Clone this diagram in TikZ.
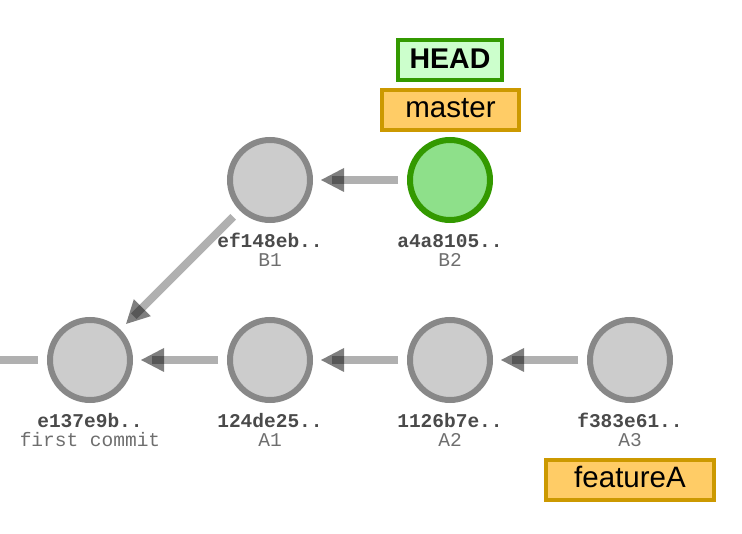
\documentclass[tikz,border=0pt]{standalone}
\usepackage{fontspec}
\setmainfont{Liberation Sans}
\newfontfamily\hashfont{Liberation Mono}
\usetikzlibrary{calc}
\definecolor{cfill}{HTML}{CCCCCC}
\definecolor{cline}{HTML}{888888}
\definecolor{hfill}{HTML}{8EE08A}
\definecolor{hline}{HTML}{339900}
\definecolor{lnk}{HTML}{B0B0B0}
\definecolor{headfill}{HTML}{CCFFCC}
\definecolor{brfill}{HTML}{FFCC66}
\definecolor{brline}{HTML}{CC9900}
\definecolor{hashcol}{HTML}{4A4A4A}
\definecolor{subjcol}{HTML}{6E6E6E}
\tikzset{
  commit/.style={circle, draw=cline, fill=cfill, line width=6pt, minimum size=80pt, inner sep=0pt},
  headcommit/.style={commit, draw=hline, fill=hfill},
  hashlbl/.style={anchor=base, text=hashcol, font=\hashfont\bfseries\fontsize{19.5}{19.5}\selectfont, inner sep=0pt},
  subjlbl/.style={anchor=base, text=subjcol, font=\hashfont\fontsize{19.5}{19.5}\selectfont, inner sep=0pt},
  linkline/.style={draw=lnk, line width=8pt},
  linktip/.style={fill=black, fill opacity=0.5},
  headref/.style={draw=hline, fill=headfill, line width=4pt, minimum width=104pt, minimum height=40pt, inner sep=0pt, text height=16.6pt, text depth=0pt, font=\bfseries\fontsize{28.5}{28.5}\selectfont},
  branchref/.style={draw=brline, fill=brfill, line width=4pt, minimum height=40pt, inner sep=0pt, text depth=0pt, font=\fontsize{29.5}{29.5}\selectfont},
}
\newcommand\gitlink[2]{%
  \draw[linkline] ($(#1.center)!52pt!(#2.center)$) -- ($(#2.center)!62pt!(#1.center)$);
  \coordinate (tt) at ($(#2.center)!51pt!(#1.center)$);
  \coordinate (tb) at ($(#2.center)!74pt!(#1.center)$);
  \fill[linktip] (tt) -- ($(tb)!12pt!90:(tt)$) -- ($(tb)!12pt!-90:(tt)$) -- cycle;}
\begin{document}
\begin{tikzpicture}[x=1pt,y=-1pt]
\useasboundingbox (0,0) rectangle (742,534);
% commits
\node[commit] (B1) at (270,180) {};
\node[headcommit] (B2) at (450,180) {};
\node[commit] (C0) at (90,360) {};
\node[commit] (A1) at (270,360) {};
\node[commit] (A2) at (450,360) {};
\node[commit] (A3) at (630,360) {};
% labels
\node[hashlbl] (B1h) at (270,248) {ef148eb..};
\node[subjlbl] (B1s) at (270,267) {B1};
\node[hashlbl] (B2h) at (450,248) {a4a8105..};
\node[subjlbl] (B2s) at (450,267) {B2};
\node[hashlbl] (C0h) at (90,428) {e137e9b..};
\node[subjlbl] (C0s) at (90,447) {first commit};
\node[hashlbl] (A1h) at (270,428) {124de25..};
\node[subjlbl] (A1s) at (270,447) {A1};
\node[hashlbl] (A2h) at (450,428) {1126b7e..};
\node[subjlbl] (A2s) at (450,447) {A2};
\node[hashlbl] (A3h) at (630,428) {f383e61..};
\node[subjlbl] (A3s) at (630,447) {A3};
% refs
\node[headref] (HEAD) at (450,60) {HEAD};
\node[branchref, minimum width=137pt, text height=15.4pt] (master) at (450.5,110) {master};
\node[branchref, minimum width=168pt, text height=14.6pt] (featureA) at (630,480) {featureA};
% links
\coordinate (off) at (0,360);
\draw[linkline] (off) -- ($(C0.center)!52pt!(off)$);
\gitlink{B2}{B1}
\gitlink{B1}{C0}
\gitlink{A1}{C0}
\gitlink{A2}{A1}
\gitlink{A3}{A2}
\end{tikzpicture}
\end{document}
